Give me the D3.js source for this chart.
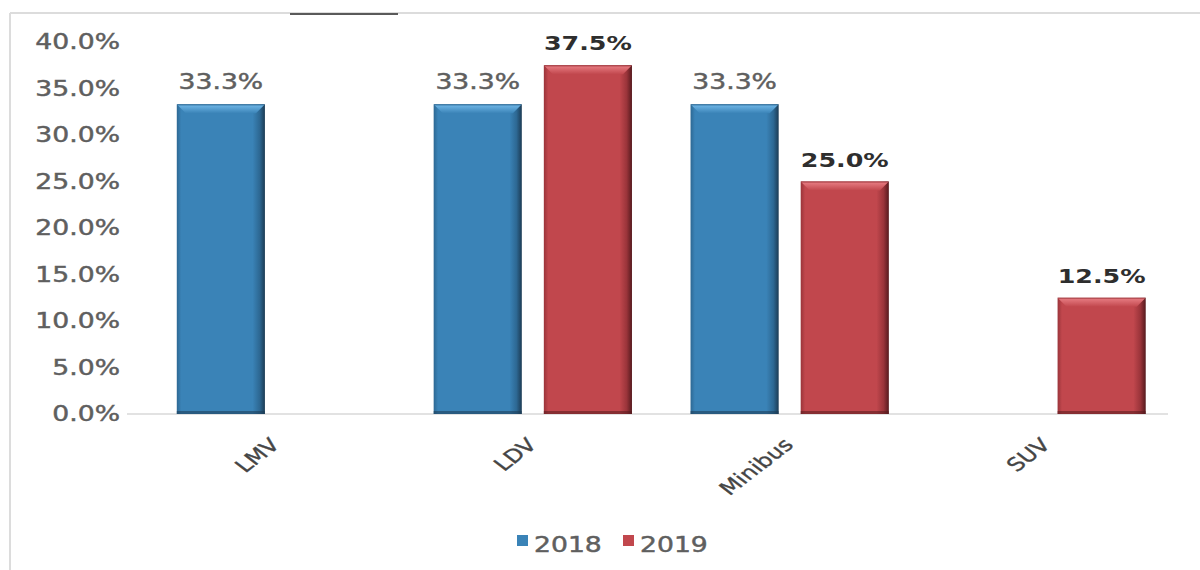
<!DOCTYPE html>
<html>
<head>
<meta charset="utf-8">
<script src="https://cdn.jsdelivr.net/npm/d3@7"></script>
<style>
  html, body { margin: 0; padding: 0; background: #ffffff; }
  svg { display: block; }
  text { font-family: "DejaVu Sans", Verdana, sans-serif; }
</style>
</head>
<body>
<svg id="chart" width="1200" height="570"></svg>
<script>
// Vehicle category shares by year
const categories = ["LMV", "LDV", "Minibus", "SUV"];
const seriesNames = ["2018", "2019"];
const values2018 = [33.3, 33.3, 33.3, null];
const values2019 = [null, 37.5, 25.0, 12.5];
const yTicks = [0, 5, 10, 15, 20, 25, 30, 35, 40];

const W = 1200, H = 570;
const SX = 1.3; // horizontal stretch applied to all text glyphs

const svg = d3.select("#chart");

const palette = {
  "2018": { body: "#3a83b7", light: "#68afe0", dark: "#1c3b54", edge: "#2d6893" },
  "2019": { body: "#c1474d", light: "#e2757b", dark: "#561a1e", edge: "#9a343a" }
};

// gradients for bar shading
const defs = svg.append("defs");
seriesNames.forEach(s => {
  const c = palette[s];
  const g = defs.append("linearGradient").attr("id", "body" + s)
    .attr("x1", "0").attr("x2", "1").attr("y1", "0").attr("y2", "0");
  g.append("stop").attr("offset", "0").attr("stop-color", c.edge);
  g.append("stop").attr("offset", "0.05").attr("stop-color", c.body);
  g.append("stop").attr("offset", "0.86").attr("stop-color", c.body);
  g.append("stop").attr("offset", "0.94").attr("stop-color", c.edge);
  g.append("stop").attr("offset", "1").attr("stop-color", c.dark);
  const t = defs.append("linearGradient").attr("id", "bevel" + s)
    .attr("x1", "0").attr("x2", "0").attr("y1", "0").attr("y2", "1");
  t.append("stop").attr("offset", "0").attr("stop-color", c.edge);
  t.append("stop").attr("offset", "0.2").attr("stop-color", c.light);
  t.append("stop").attr("offset", "1").attr("stop-color", c.body);
});

// frame
svg.append("line").attr("x1", 10).attr("x2", W).attr("y1", 13).attr("y2", 13)
  .attr("stroke", "#dcdcdc").attr("stroke-width", 2);
svg.append("line").attr("x1", 10).attr("x2", 10).attr("y1", 13).attr("y2", H)
  .attr("stroke", "#dcdcdc").attr("stroke-width", 2);
svg.append("line").attr("x1", 290).attr("x2", 398).attr("y1", 14).attr("y2", 14)
  .attr("stroke", "#5a5a5a").attr("stroke-width", 2);

// scales
const x0 = d3.scaleBand().domain(categories).range([147.5, 1175])
  .paddingInner(0.228).paddingOuter(0.114);
const x1 = d3.scaleBand().domain(seriesNames).range([0, x0.bandwidth()])
  .paddingInner(0.2).paddingOuter(0);
const y = d3.scaleLinear().domain([0, 40]).range([414, 42]);

// baseline
svg.append("line").attr("x1", 127).attr("x2", 1168)
  .attr("y1", y(0)).attr("y2", y(0))
  .attr("stroke", "#d9d9d9").attr("stroke-width", 1.5);

// y axis tick labels
const fmt = v => d3.format(".1f")(v) + "%";
svg.append("g").selectAll("text").data(yTicks).join("text")
  .attr("transform", d => `translate(120,${y(d)}) scale(${SX},1)`)
  .attr("dy", "0.36em")
  .attr("text-anchor", "end")
  .attr("font-size", 20.5)
  .attr("fill", "#5f5f5f")
  .attr("stroke", "#5f5f5f").attr("stroke-width", 0.45)
  .text(fmt);

// bars
const rows = [];
categories.forEach((c, i) => {
  rows.push({ cat: c, series: "2018", value: values2018[i] });
  rows.push({ cat: c, series: "2019", value: values2019[i] });
});
const bars = rows.filter(d => d.value != null);
const bw = x1.bandwidth();
const bev = 9;

const barG = svg.append("g").selectAll("g").data(bars).join("g")
  .attr("transform", d => `translate(${x0(d.cat) + x1(d.series)},0)`);

barG.append("rect")
  .attr("x", 0).attr("y", d => y(d.value))
  .attr("width", bw).attr("height", d => y(0) - y(d.value))
  .attr("fill", d => `url(#body${d.series})`);

barG.append("path")
  .attr("d", d => {
    const t = y(d.value);
    return `M0,${t}L${bw},${t}L${bw - bev},${t + bev}L${bev},${t + bev}Z`;
  })
  .attr("fill", d => `url(#bevel${d.series})`);

barG.append("rect")
  .attr("x", 0).attr("y", d => y(0) - 3)
  .attr("width", bw).attr("height", 3)
  .attr("fill", d => palette[d.series].dark).attr("opacity", 0.55);

// value labels
barG.append("text")
  .attr("transform", d => `translate(${bw / 2},${y(d.value) - 15}) scale(${SX},1)`)
  .attr("text-anchor", "middle")
  .attr("font-size", d => d.series === "2018" ? 20.5 : 19.5)
  .attr("font-weight", d => d.series === "2018" ? "normal" : "bold")
  .attr("fill", d => d.series === "2018" ? "#5f5f5f" : "#2e2e2e")
  .attr("stroke", d => d.series === "2018" ? "#5f5f5f" : "none")
  .attr("stroke-width", 0.45)
  .text(d => fmt(d.value));

// category labels
svg.append("g").selectAll("text").data(categories).join("text")
  .attr("transform", d => `translate(${x0(d) + x0.bandwidth() / 2 + 5},446) scale(${SX},1) rotate(-45)`)
  .attr("text-anchor", "end")
  .attr("font-size", 18.5)
  .attr("fill", "#454545")
  .attr("stroke", "#454545").attr("stroke-width", 0.35)
  .text(d => d);

// legend
const legendX = { "2018": 517, "2019": 623 };
const lg = svg.append("g").selectAll("g").data(seriesNames).join("g")
  .attr("transform", d => `translate(${legendX[d]},0)`);
lg.append("rect").attr("x", 0).attr("y", 535).attr("width", 11).attr("height", 11)
  .attr("fill", d => palette[d].body);
lg.append("text")
  .attr("transform", `translate(17,552) scale(${SX},1)`)
  .attr("font-size", 20.5)
  .attr("fill", "#5f5f5f")
  .attr("stroke", "#5f5f5f").attr("stroke-width", 0.45)
  .text(d => d);
</script>
</body>
</html>
